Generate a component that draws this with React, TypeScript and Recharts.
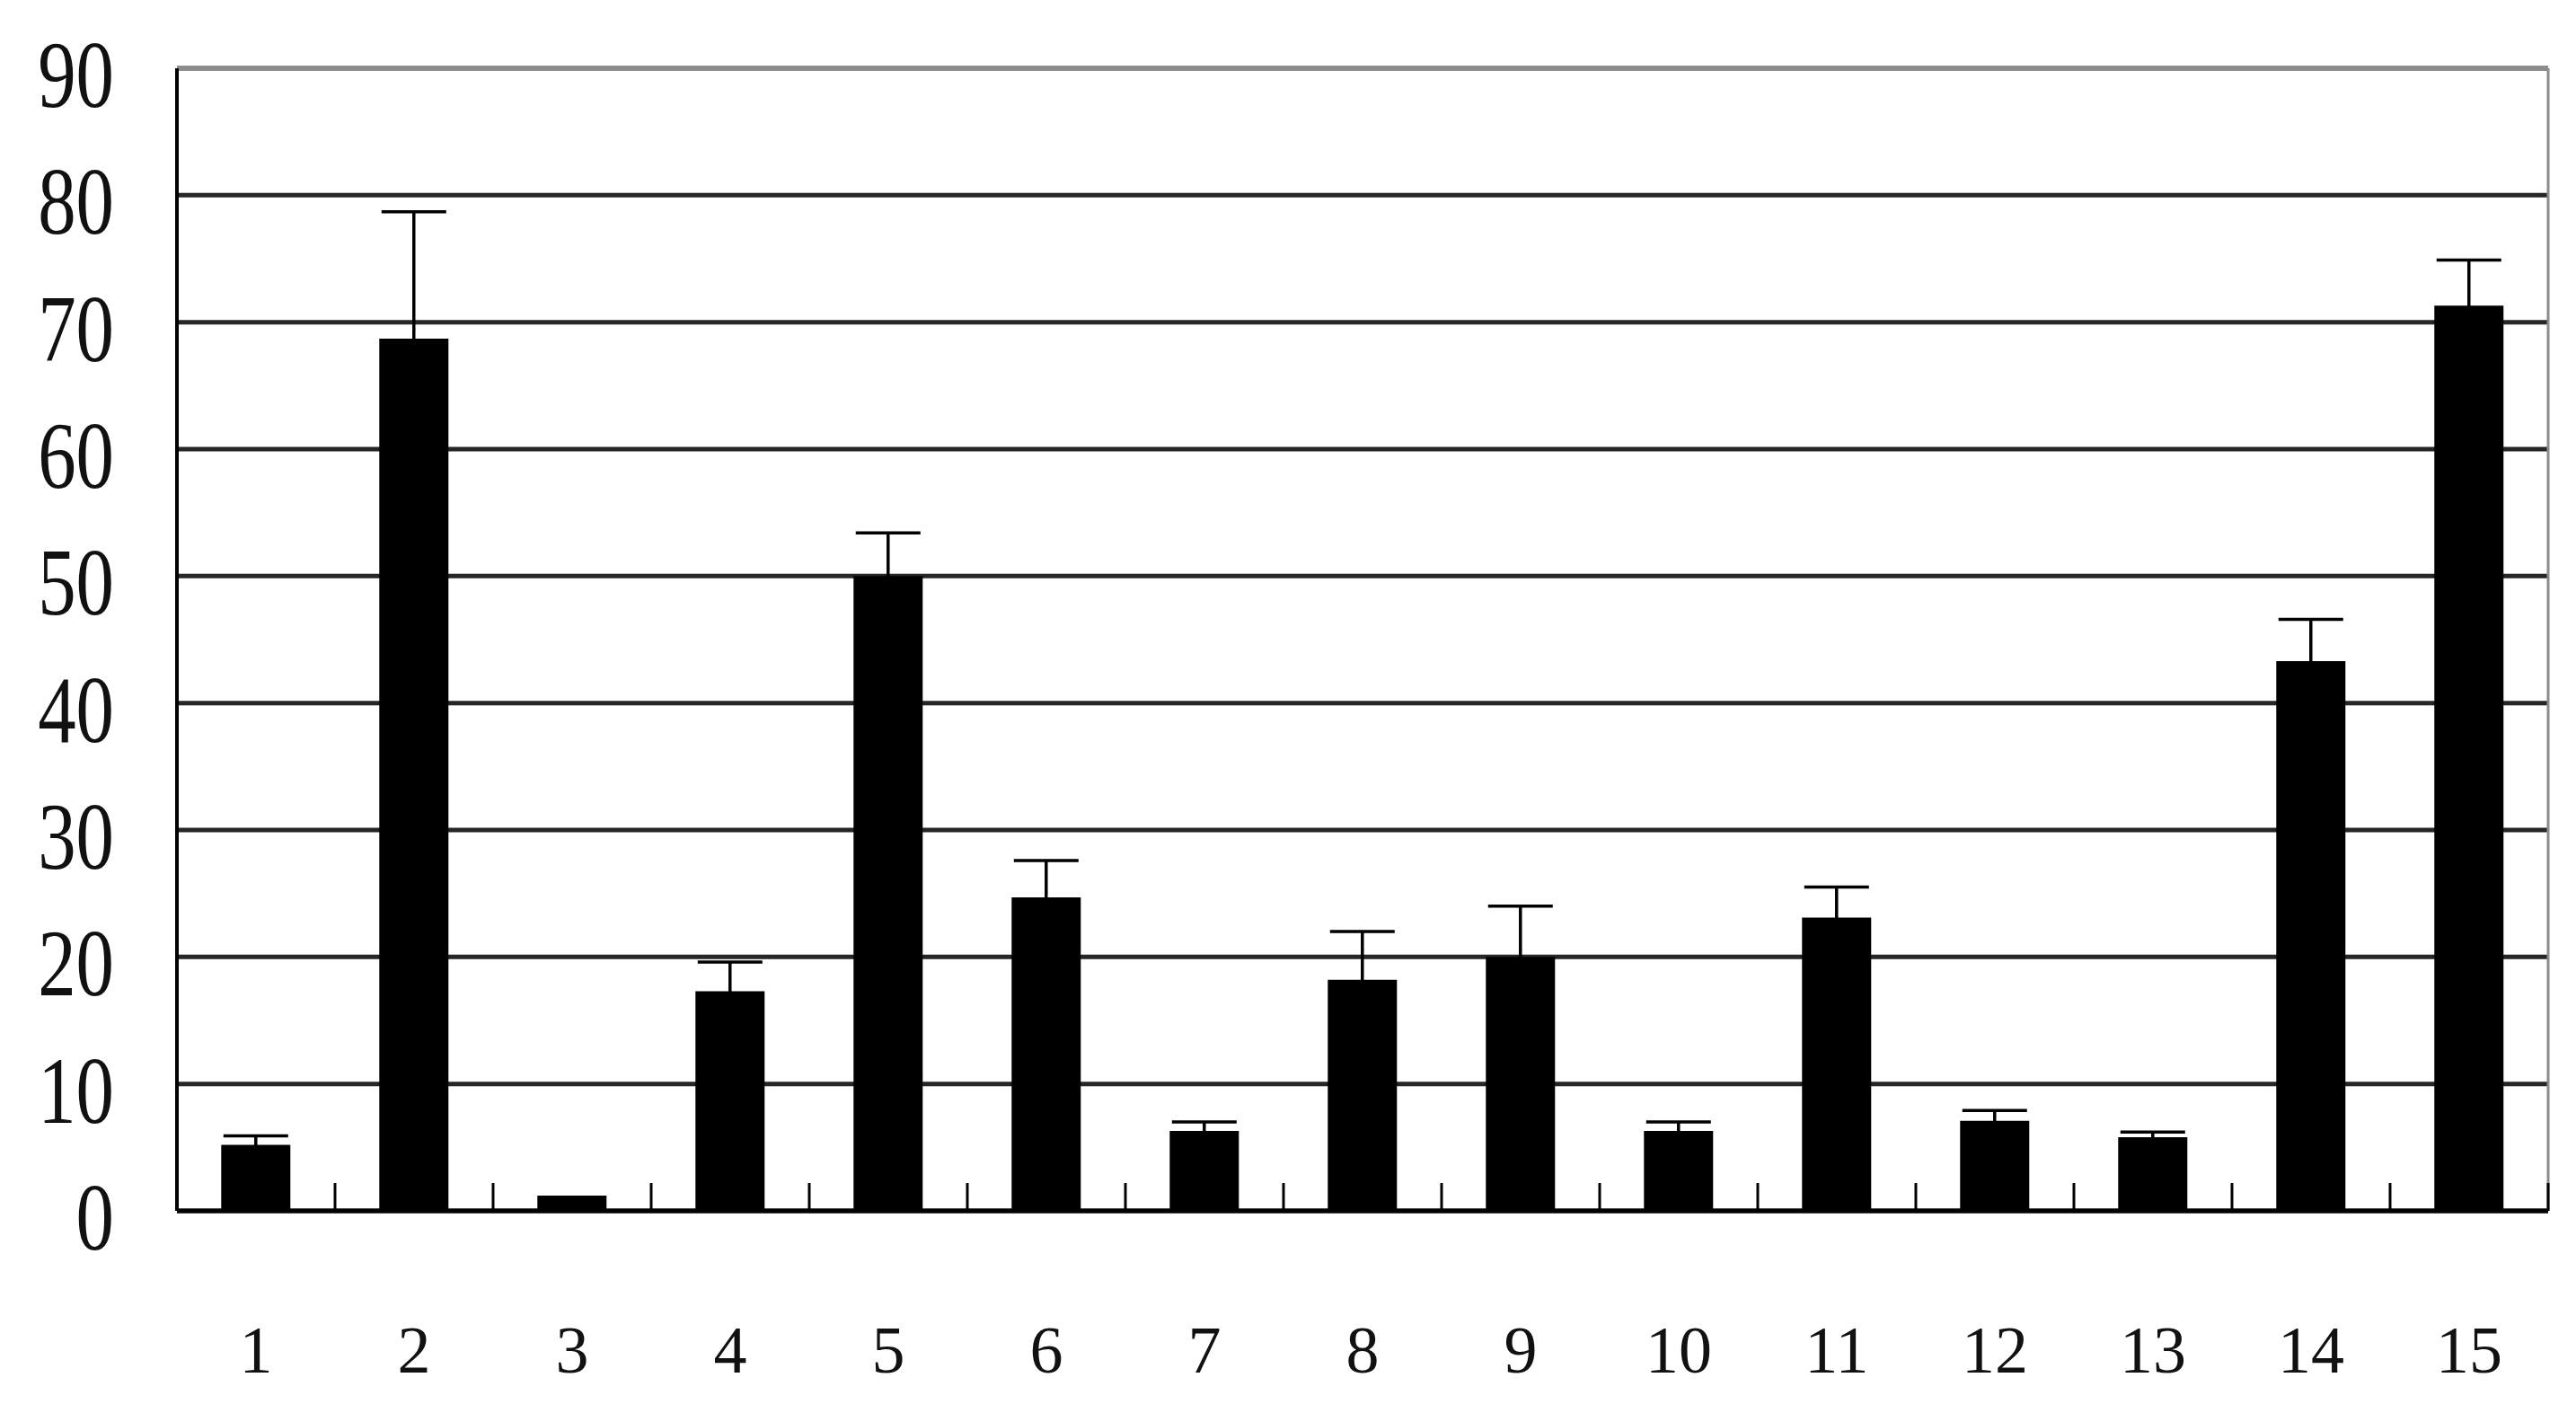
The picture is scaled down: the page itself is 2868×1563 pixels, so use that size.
import React from 'react';
import { BarChart, Bar, XAxis, YAxis, CartesianGrid, ErrorBar, ReferenceLine } from 'recharts';

const categories = ['1', '2', '3', '4', '5', '6', '7', '8', '9', '10', '11', '12', '13', '14', '15'];
const values = [5.2, 68.7, 1.2, 17.3, 50.0, 24.7, 6.3, 18.2, 20.0, 6.3, 23.1, 7.1, 5.8, 43.3, 71.3];
const errors = [0.7, 10.0, 0, 2.3, 3.4, 2.9, 0.7, 3.8, 4.0, 0.7, 2.4, 0.8, 0.4, 3.3, 3.6];
const yTicks = [0, 10, 20, 30, 40, 50, 60, 70, 80, 90];
// category boundaries that carry a small tick mark (drawn at the start of each band)
const boundaryCats = ['2', '3', '4', '5', '6', '7', '8', '9', '10', '11', '12', '13', '14', '15'];

const data = categories.map((name, i) => ({ name, value: values[i], err: errors[i] }));

const FONT = '"Liberation Serif", "DejaVu Serif", serif';

const YTick = (props: any) => {
  const { x, y, payload } = props;
  return (
    <g transform={`translate(${x},${y}) scale(0.8,1)`}>
      <text x={0} y={43} textAnchor="end" fontFamily={FONT} fontSize={106} fill="#111">
        {payload.value}
      </text>
    </g>
  );
};

const XTick = (props: any) => {
  const { x, y, payload } = props;
  return (
    <text x={x} y={y + 180} textAnchor="middle" fontFamily={FONT} fontSize={74} fill="#111">
      {payload.value}
    </text>
  );
};

const BoundaryTick = (props: any) => {
  const { x1, x2, y1, y2 } = props;
  const bottom = Math.max(y1, y2);
  return <line x1={x1} x2={x2} y1={bottom} y2={bottom - 31} stroke="#000" strokeWidth={3} />;
};

export default function App() {
  return (
    <div style={{ width: 2852, height: 1547, background: '#fff' }}>
      <BarChart
        width={2852}
        height={1547}
        data={data}
        margin={{ top: 68, right: 23, bottom: 7, left: 0 }}
        barCategoryGap="28%"
      >
        <CartesianGrid vertical={false} stroke="#262626" strokeWidth={5} />
        <XAxis
          dataKey="name"
          interval={0}
          height={200}
          tickSize={0}
          tickMargin={0}
          tickLine={false}
          axisLine={{ stroke: '#000', strokeWidth: 5 }}
          tick={<XTick />}
        />
        <YAxis
          width={189}
          domain={[0, 90]}
          ticks={yTicks}
          interval={0}
          tickSize={0}
          tickMargin={70}
          tickLine={false}
          axisLine={{ stroke: '#000', strokeWidth: 4 }}
          tick={<YTick />}
        />
        <ReferenceLine y={90} stroke="#8c8c8c" strokeWidth={4} />
        <ReferenceLine x="15" position="end" stroke="#8c8c8c" strokeWidth={3} />
        {boundaryCats.map((c) => (
          <ReferenceLine key={c} x={c} position="start" stroke="#000" shape={<BoundaryTick />} />
        ))}
        <ReferenceLine x="15" position="end" stroke="#000" shape={<BoundaryTick />} />
        <Bar dataKey="value" fill="#000" isAnimationActive={false}>
          <ErrorBar dataKey="err" width={36} strokeWidth={3.5} stroke="#000" direction="y" />
        </Bar>
      </BarChart>
    </div>
  );
}
